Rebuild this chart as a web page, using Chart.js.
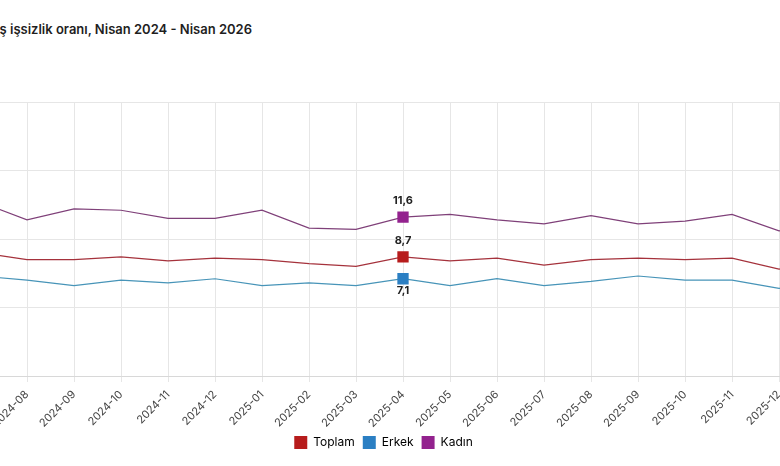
<!DOCTYPE html>
<html lang="tr">
<head>
<meta charset="utf-8">
<title>İşsizlik oranı</title>
<script src="https://cdn.jsdelivr.net/npm/chart.js@4.4.1/dist/chart.umd.min.js"></script>
<style>
  html, body { margin: 0; padding: 0; background: #fff; overflow: hidden; }
  body { width: 780px; height: 466px; position: relative; }
  .title {
    position: absolute; right: 528px; top: 21px;
    white-space: nowrap; text-align: right;
    font-family: Inter, "Noto Sans", sans-serif; font-weight: 600; font-size: 13px; color: #1f1f1f;
  }
  .wrap { position: absolute; left: -200px; top: 0; width: 1200px; height: 466px; }
</style>
</head>
<body>
<div class="title">Mevsim etkisinden arındırılmış işsizlik oranı, Nisan 2024 - Nisan 2026</div>
<div class="wrap"><canvas id="chart"></canvas></div>
<script>
// months, Nisan 2024 - Nisan 2026
const months = ['2024-04', '2024-05', '2024-06', '2024-07', '2024-08', '2024-09', '2024-10', '2024-11', '2024-12',
  '2025-01', '2025-02', '2025-03', '2025-04', '2025-05', '2025-06', '2025-07', '2025-08', '2025-09', '2025-10',
  '2025-11', '2025-12', '2026-01', '2026-02', '2026-03', '2026-04'];

const toplam = [8.6, 8.5, 9.2, 9.0, 8.5, 8.5, 8.7, 8.4, 8.6, 8.5, 8.2, 8.0, 8.7, 8.4, 8.6, 8.1, 8.5, 8.6, 8.5, 8.6, 7.8, 8.1, 8.2, 8.0, 8.1];
const erkek = [7.0, 6.9, 7.6, 7.3, 7.0, 6.6, 7.0, 6.8, 7.1, 6.6, 6.8, 6.6, 7.1, 6.6, 7.1, 6.6, 6.9, 7.3, 7.0, 7.0, 6.4, 6.7, 6.8, 6.6, 6.7];
const kadin = [12.1, 12.3, 12.9, 12.7, 11.4, 12.2, 12.1, 11.5, 11.5, 12.1, 10.8, 10.7, 11.6, 11.8, 11.4, 11.1, 11.7, 11.1, 11.3, 11.8, 10.6, 10.9, 11.2, 10.9, 11.0];

const yTicks = [0, 5, 10, 15, 20];

// month with a marker and a value label
const markedMonth = '2025-04';
const markIdx = months.indexOf(markedMonth);

const font = "Inter, 'Noto Sans', sans-serif";

const pointSizes = months.map((m, i) => i === markIdx ? 8 : 0);

// draws the value next to the marked point
const valueLabels = {
  id: 'valueLabels',
  afterDatasetsDraw(chart) {
    const ctx = chart.ctx;
    ctx.save();
    ctx.font = 'bold 11px ' + font;
    ctx.fillStyle = '#222';
    ctx.textAlign = 'center';
    ctx.textBaseline = 'middle';
    chart.data.datasets.forEach((ds, i) => {
      const pt = chart.getDatasetMeta(i).data[markIdx];
      if (!pt) return;
      const dy = ds.labelBelow ? 12 : -16;
      ctx.fillText(String(ds.data[markIdx]).replace('.', ','), pt.x, pt.y + dy);
    });
    ctx.restore();
  }
};

new Chart(document.getElementById('chart'), {
  type: 'line',
  data: {
    labels: months,
    datasets: [
      { label: 'Toplam', data: toplam, borderColor: '#a5323c', backgroundColor: '#b71c1c',
        pointBackgroundColor: '#b71c1c', pointBorderColor: '#b71c1c' },
      { label: 'Erkek', data: erkek, borderColor: '#4794b8', backgroundColor: '#2b7fc3',
        pointBackgroundColor: '#2b7fc3', pointBorderColor: '#2b7fc3', labelBelow: true },
      { label: 'Kadın', data: kadin, borderColor: '#7f4079', backgroundColor: '#93228e',
        pointBackgroundColor: '#93228e', pointBorderColor: '#93228e' }
    ].map(ds => Object.assign(ds, {
      borderWidth: 1.2,
      tension: 0,
      fill: false,
      pointStyle: 'rect',
      pointRadius: pointSizes,
      pointHoverRadius: pointSizes,
      pointBorderWidth: 0
    }))
  },
  options: {
    responsive: true,
    maintainAspectRatio: false,
    animation: false,
    layout: { padding: { top: 102, right: 33, bottom: 7, left: 0 } },
    plugins: {
      legend: {
        position: 'bottom',
        labels: {
          boxWidth: 13, boxHeight: 13, padding: 8,
          color: '#333',
          font: { family: font, size: 12 },
          generateLabels(chart) {
            return chart.data.datasets.map((ds, i) => ({
              text: ds.label,
              fillStyle: ds.backgroundColor,
              strokeStyle: ds.backgroundColor,
              lineWidth: 0,
              datasetIndex: i,
              hidden: !chart.isDatasetVisible(i)
            }));
          }
        }
      },
      tooltip: { enabled: false }
    },
    scales: {
      x: {
        afterFit(scale) { scale.height = 52; },
        grid: { color: '#e6e6e6', tickLength: 6 },
        border: { color: '#d8d8d8' },
        ticks: {
          color: '#444', autoSkip: false, maxRotation: 45, minRotation: 45, padding: 6,
          font: { family: font, size: 11 }
        }
      },
      y: {
        min: 0, max: 20,
        afterFit(scale) { scale.width = 39; },
        afterBuildTicks(scale) { scale.ticks = yTicks.map(v => ({ value: v })); },
        grid: { color: '#e6e6e6' },
        border: { display: false },
        ticks: { color: '#444', font: { family: font, size: 11 } }
      }
    }
  },
  plugins: [valueLabels]
});
</script>
</body>
</html>
